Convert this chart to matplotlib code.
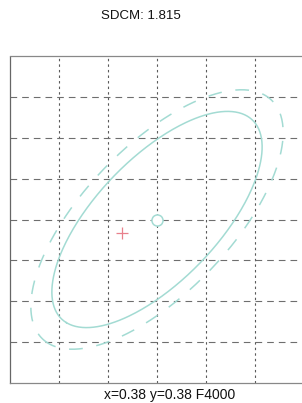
import numpy as np
import matplotlib
matplotlib.use("Agg")
import matplotlib.pyplot as plt

# ---- data ----
title_text = "SDCM: 1.815"
footer_text = "x=0.38 y=0.38 F4000"
center_xy = [0.380, 0.380]          # ellipse centre (F4000)
g_coeffs = [39.5e4, -21.5e4, 26.0e4]  # g11, g12, g22
ellipse_steps = [5, 6]               # solid, dashed
measured_xy = [0.3764, 0.3784]       # measured point (red plus)
x_limits = [0.365, 0.395]
y_limits = [0.360, 0.400]
x_grid = [0.370, 0.375, 0.380, 0.385, 0.390]
y_grid = [0.365, 0.370, 0.375, 0.380, 0.385, 0.390, 0.395]

# ---- figure ----
fig = plt.figure(figsize=(3.02, 4.03), dpi=100)
ax = fig.add_axes([10/302, 20/403, 294/302, 327/403])
ax.set_xlim(*x_limits)
ax.set_ylim(*y_limits)

for xv in x_grid:
    ax.axvline(xv, color="#5a5a5a", lw=0.8, ls=(0, (2.2, 2.8)), zorder=1)
for yv in y_grid:
    ax.axhline(yv, color="#6e6e6e", lw=0.8, ls=(0, (6, 4.5)), zorder=1)

ell_col = "#a3dbd3"
g11, g12, g22 = g_coeffs
M = np.array([[g11, g12], [g12, g22]])
vals, vecs = np.linalg.eigh(M)
t = np.linspace(0, 2*np.pi, 400)
styles = ["-", (0, (9, 9))]
for n, st in zip(ellipse_steps, styles):
    a = n / np.sqrt(vals[0])
    b = n / np.sqrt(vals[1])
    pts = vecs[:, 0][:, None] * (a*np.cos(t)) + vecs[:, 1][:, None] * (b*np.sin(t))
    ax.plot(center_xy[0] + pts[0], center_xy[1] + pts[1], color=ell_col,
            lw=1.1, ls=st, zorder=2)

ax.plot(center_xy[0], center_xy[1], marker="o", ms=8, mfc="white",
        mec=ell_col, mew=1.1, zorder=3)
ax.plot(measured_xy[0], measured_xy[1], marker="+", ms=8, color="#e8808c",
        mew=0.9, zorder=3)

ax.set_xticks([])
ax.set_yticks([])
for s in ["top", "bottom"]:
    ax.spines[s].set_color("#888888")
    ax.spines[s].set_linewidth(0.9)
ax.spines["left"].set_color("#666666")
ax.spines["left"].set_linewidth(0.9)
ax.spines["left"].set_linestyle((0, (1, 1)))
ax.spines["right"].set_visible(False)

fig.text(141/302, 1 - 16/403, title_text, ha="center", va="center",
         fontsize=9.5, family="Liberation Sans", color="#111111")
fig.text(170/302, 8/403, footer_text, ha="center", va="center",
         fontsize=10, family="Liberation Sans", color="#111111")

fig.savefig("out.png", dpi=100)
